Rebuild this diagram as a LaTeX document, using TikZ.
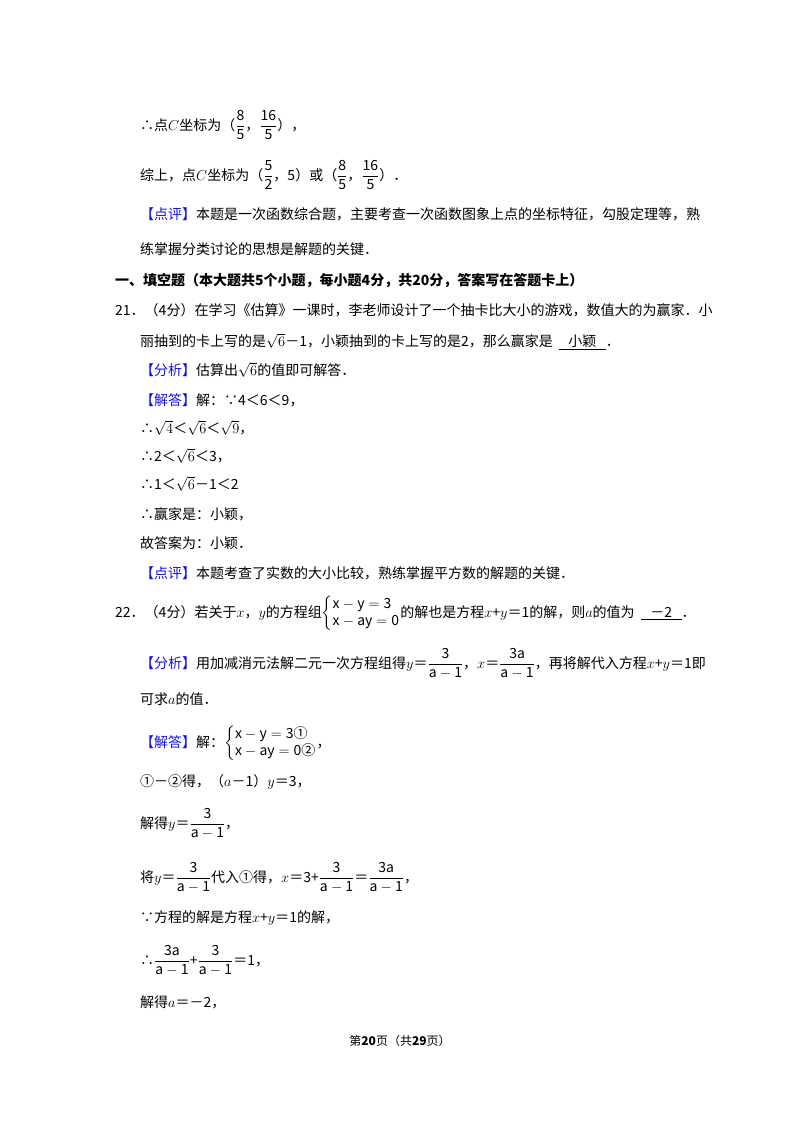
\documentclass[tikz,border=0pt]{standalone}
\usepackage{fontspec}
\setmainfont{Noto Sans CJK SC}
\newfontfamily\cjkb[BoldFont=*]{Noto Sans CJK SC}
\definecolor{kblue}{RGB}{20,20,230}
\newcommand{\kb}[1]{{\color{kblue}【#1】}}
\newcommand{\fr}[2]{\dfrac{\mathrm{#1}}{\mathrm{#2}}}
\usepackage{amsmath}
\begin{document}
\begin{tikzpicture}[x=1pt,y=-1pt,
  ln/.style={anchor=base west,inner sep=0pt,font=\fontsize{14}{17}\selectfont}]
\useasboundingbox[fill=white] (0,0) rectangle (800,1132);
\node[ln] (l1) at (140,130) {∴点$C$坐标为（$\fr{8}{5}$，$\fr{16}{5}$），};
\node[ln] (l2) at (140,180) {综上，点$C$坐标为（$\fr{5}{2}$，5）或（$\fr{8}{5}$，$\fr{16}{5}$）．};
\node[ln] (l3) at (140,219) {\kb{点评}本题是一次函数综合题，主要考查一次函数图象上点的坐标特征，勾股定理等，熟};
\node[ln] (l4) at (140,254) {练掌握分类讨论的思想是解题的关键．};
\node[ln,font=\fontsize{14}{17}\selectfont\bfseries] (l5) at (115,285) {一、填空题（本大题共5个小题，每小题4分，共20分，答案写在答题卡上）};
\node[ln] (l6) at (115,315) {21．（4分）在学习《估算》一课时，李老师设计了一个抽卡比大小的游戏，数值大的为赢家．小};
\node[ln] (l7) at (140,346) {丽抽到的卡上写的是$\sqrt{6}$－1，小颖抽到的卡上写的是2，那么赢家是\ \ \underline{\ \ \ 小颖\ \ \ }．};
\node[ln] (l8) at (140,375) {\kb{分析}估算出$\sqrt{6}$的值即可解答．};
\node[ln] (l9) at (140,405) {\kb{解答}解：∵4＜6＜9，};
\node[ln] (l10) at (140,433) {∴$\sqrt{4}$＜$\sqrt{6}$＜$\sqrt{9}$，};
\node[ln] (l11) at (140,461) {∴2＜$\sqrt{6}$＜3，};
\node[ln] (l12) at (140,489) {∴1＜$\sqrt{6}$－1＜2};
\node[ln] (l13) at (140,519) {∴赢家是：小颖，};
\node[ln] (l14) at (140,548) {故答案为：小颖．};
\node[ln] (l15) at (140,578) {\kb{点评}本题考查了实数的大小比较，熟练掌握平方数的解题的关键．};
\node[ln] (l16) at (115,617) {22．（4分）若关于$x$，$y$的方程组$\left\{\begin{array}{@{}l@{}}\mathrm{x-y=3}\\\mathrm{x-ay=0}\end{array}\right.$的解也是方程$x$+$y$＝1的解，则$a$的值为\ \ \underline{\ \ \ －2\ \ \ }．};
\node[ln] (l17) at (140,668) {\kb{分析}用加减消元法解二元一次方程组得$y$＝$\fr{3}{a-1}$，$x$＝$\fr{3a}{a-1}$，再将解代入方程$x$+$y$＝1即};
\node[ln] (l18) at (140,704) {可求$a$的值．};
\node[ln] (l19) at (140,747) {\kb{解答}解：$\left\{\begin{array}{@{}l@{}}\mathrm{x-y=3}\text{①}\\\mathrm{x-ay=0}\text{②}\end{array}\right.$，};
\node[ln] (l20) at (140,786) {①－②得，（$a$－1）$y$＝3，};
\node[ln] (l21) at (140,828) {解得$y$＝$\fr{3}{a-1}$，};
\node[ln] (l22) at (140,882) {将$y$＝$\fr{3}{a-1}$代入①得，$x$＝3+$\fr{3}{a-1}$＝$\fr{3a}{a-1}$，};
\node[ln] (l23) at (140,922) {∵方程的解是方程$x$+$y$＝1的解，};
\node[ln] (l24) at (140,965) {∴$\fr{3a}{a-1}$+$\fr{3}{a-1}$＝1，};
\node[ln] (l25) at (140,1007) {解得$a$＝－2，};
\node[anchor=base,inner sep=0pt,font=\fontsize{12}{14}\selectfont] (ft) at (400,1045) {第\textbf{20}页（共\textbf{29}页）};
\end{tikzpicture}
\end{document}
